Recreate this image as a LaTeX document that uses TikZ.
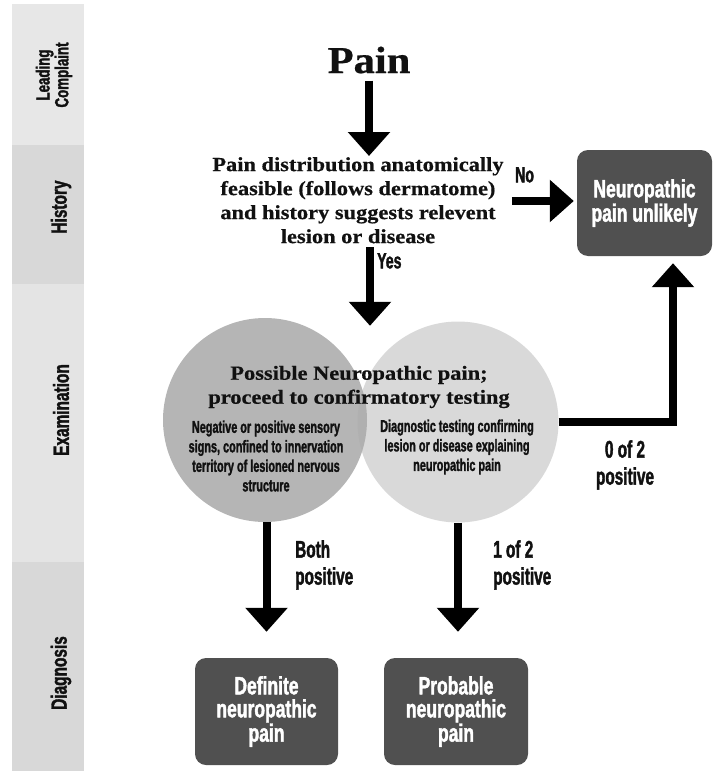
\documentclass[tikz,border=0pt]{standalone}
\usepackage{fontspec}
\setmainfont{Liberation Serif}
\newfontfamily\serifw[FakeStretch=1.12, BoldFeatures={FakeBold=0.6}]{Liberation Serif}
\newfontfamily\cond[FakeStretch=0.70, BoldFeatures={FakeBold=1.6}]{Liberation Sans}
\newfontfamily\condn[FakeStretch=0.64, BoldFeatures={FakeBold=1.6}]{Liberation Sans}
\usetikzlibrary{arrows.meta,calc}
\definecolor{bandA}{HTML}{E7E7E7}
\definecolor{bandB}{HTML}{D8D8D8}
\definecolor{bandC}{HTML}{E4E4E4}
\definecolor{boxgray}{HTML}{505050}
\definecolor{circL}{HTML}{ABABAB}
\definecolor{circR}{HTML}{D9D9D9}
\definecolor{ink}{HTML}{111111}
\tikzset{
  arr/.style={line width=8pt, line join=miter, -{Triangle[width=41pt,length=24pt]}},
  sertext/.style={font=\serifw\bfseries\fontsize{20}{24}\selectfont, align=center, inner sep=1pt, text=ink},
  condlbl/.style={font=\condn\bfseries\fontsize{24}{27}\selectfont, inner sep=0pt, text=ink},
  smalltxt/.style={font=\condn\bfseries\fontsize{17}{19.5}\selectfont, align=center, inner sep=0pt, text=ink},
  bandlbl/.style={font=\cond\bfseries\fontsize{22}{17}\selectfont, align=center, rotate=90, inner sep=0pt, text=ink},
  darkbox/.style={rounded corners=11pt, fill=boxgray, text=white, align=center,
    font=\cond\bfseries\fontsize{25}{23}\selectfont, inner sep=0pt},
}
\begin{document}
\begin{tikzpicture}[x=1pt,y=-1pt]
\useasboundingbox (0,0) rectangle (713,771);
% bands
\fill[bandA] (12,4) rectangle (84,145);
\fill[bandB] (12,145) rectangle (84,284);
\fill[bandC] (12,284) rectangle (84,562);
\fill[bandB] (12,562) rectangle (84,771);
\node[bandlbl, font=\cond\bfseries\fontsize{19}{16}\selectfont] (lc) at (54,75) {Leading\\Complaint};
\node[bandlbl] (lh) at (61,207) {History};
\node[bandlbl] (le) at (61,410) {Examination};
\node[bandlbl] (ld) at (61,673) {Diagnosis};
% circles
\node[circle, fill=circR, minimum size=201pt, inner sep=0pt] (cr) at (458,422) {};
\node[circle, fill=circL, fill opacity=0.88, minimum size=204pt, inner sep=0pt] (cl) at (265,420) {};
% texts
\node[sertext, font=\serifw\bfseries\fontsize{38}{40}\selectfont, anchor=base, inner sep=3pt] (pain) at (369,73) {Pain};
\node[sertext, anchor=north] (hist) at (358,156) {Pain distribution anatomically\\feasible (follows dermatome)\\and history suggests relevent\\lesion or disease};
\node[sertext] (title) at (359,387) {Possible Neuropathic pain;\\proceed to confirmatory testing};
\node[smalltxt] (ltxt) at (266,456) {Negative or positive sensory\\signs, confined to innervation\\territory of lesioned nervous\\structure};
\node[smalltxt] (rtxt) at (457,447) {Diagnostic testing confirming\\lesion or disease explaining\\neuropathic pain};
% boxes
\node[darkbox, minimum width=135pt, minimum height=106pt] (unl) at (644.5,203) {Neuropathic\\pain unlikely};
\node[darkbox, minimum width=143pt, minimum height=107pt] (def) at (266.5,711.5) {Definite\\neuropathic\\pain};
\node[darkbox, minimum width=144pt, minimum height=107pt] (prob) at (456,711.5) {Probable\\neuropathic\\pain};
% labels
\node[condlbl, font=\condn\bfseries\fontsize{22}{27}\selectfont, anchor=north west] (no) at (515,167) {No};
\node[condlbl, font=\condn\bfseries\fontsize{22}{27}\selectfont, anchor=north west] (yes) at (377,253) {Yes};
\node[condlbl, anchor=north west, align=left] (both) at (295,540) {Both\\positive};
\node[condlbl, anchor=north west, align=left] (one) at (493,540) {1 of 2\\positive};
\node[condlbl, anchor=north, align=center] (zero) at (625,440) {0 of 2\\positive};
% arrows
\coordinate (noy) at (0,201);
\draw[arr] ([yshift=-4pt]pain.south) -- (pain.south |- hist.north);
\draw[arr, shorten >=3pt] (hist.east |- noy) ++(7,0) -- (unl.west |- noy);
\draw[arr] ([xshift=12pt,yshift=-3pt]hist.south) -- ([xshift=12pt,yshift=-8pt]hist.south |- cl.north);
\draw[arr, shorten >=7pt] (cr.east) -| ([xshift=28.5pt]unl.south);
\draw[arr, shorten >=26pt] (def.north |- cl.south) -- (def.north);
\draw[arr, shorten >=26pt] ([xshift=2pt]prob.north |- cr.south) -- ([xshift=2pt]prob.north);
\end{tikzpicture}
\end{document}
